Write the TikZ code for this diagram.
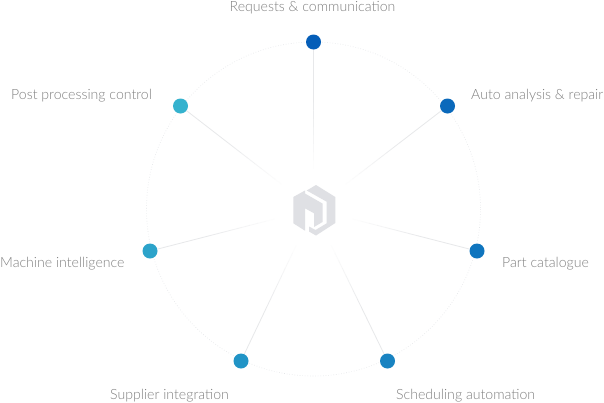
\documentclass[tikz,border=0pt]{standalone}
\usepackage{fontspec}
\setmainfont{Lato Light}
\usetikzlibrary{backgrounds,calc}
\definecolor{ringc}{HTML}{E4E6E8}
\definecolor{spokec}{HTML}{E7E8EA}
\definecolor{logoc}{HTML}{DFE0E4}
\definecolor{labelc}{HTML}{808080}
\definecolor{c1}{RGB}{5,94,184}
\definecolor{c2}{RGB}{10,105,187}
\definecolor{c3}{RGB}{15,117,190}
\definecolor{c4}{RGB}{25,131,193}
\definecolor{c5}{RGB}{33,148,198}
\definecolor{c6}{RGB}{44,163,202}
\definecolor{c7}{RGB}{53,178,206}
\tikzset{
  x=1pt,y=-1pt,
  dot/.style={circle,inner sep=0pt,minimum size=15pt,fill=#1},
  lab/.style={text=labelc,font=\fontsize{14.1}{16}\selectfont,inner sep=0pt,anchor=base west},
  ring/.style={draw=ringc,line width=.6pt,dotted},
  spoke/.style={draw=spokec,line width=.8pt},
  logo/.style={fill=logoc,draw=none}
}
\begin{document}
\begin{tikzpicture}
\useasboundingbox (0,0) rectangle (604,402);
\coordinate (hub) at (313.5,209);
\node[dot=c1] (a) at (313.5,42) {};
\node[dot=c2] (b) at (447.5,106) {};
\node[dot=c3] (c) at (477,251) {};
\node[dot=c4] (d) at (387.5,361) {};
\node[dot=c5] (e) at (241,361) {};
\node[dot=c6] (f) at (150,251) {};
\node[dot=c7] (g) at (180.5,106) {};
\begin{scope}[on background layer]
\fill[white] (0,0) rectangle (604,402);
\draw[ring] (hub) circle[radius=167];
\foreach \n in {a,b,c,d,e,f,g} {
  \foreach \s/\t/\o in {.24/.29/.08,.29/.34/.2,.34/.39/.32,.39/.44/.44,.44/.49/.56,.49/.54/.68,.54/.59/.8,.59/.64/.9} 
    \draw[spoke,opacity=\o] ($(hub)!\s!(\n)$) -- ($(hub)!\t!(\n)$);
  \draw[spoke] ($(hub)!.64!(\n)$) -- (\n);
}
\end{scope}
\fill[logo] (316,185) -- (335.3,197) -- (335.3,223) -- (316,235.5) -- (309,231.5) -- (309,226.5) -- (315.5,230) -- (326.7,223.3) -- (326.7,201.7) -- (306.7,190.5) -- cycle;
\fill[logo] (293.3,197) -- (305,190.5) -- (305,193.5) -- (322.5,203.5) -- (322.5,222) -- (314,227) -- (314,213.3) -- (305,208.3) -- (305,230.7) -- (293.3,223.3) -- cycle;
\node[lab] (la) at (229.5,11) {Requests \& communication};
\node[lab] (lb) at (471,99.5) {Auto analysis \& repair};
\node[lab] (lc) at (502,267) {Part catalogue};
\node[lab] (ld) at (396,399) {Scheduling automation};
\node[lab] (le) at (110,399) {Supplier integration};
\node[lab] (lf) at (0,267) {Machine intelligence};
\node[lab] (lg) at (11,99.5) {Post processing control};
\end{tikzpicture}
\end{document}
